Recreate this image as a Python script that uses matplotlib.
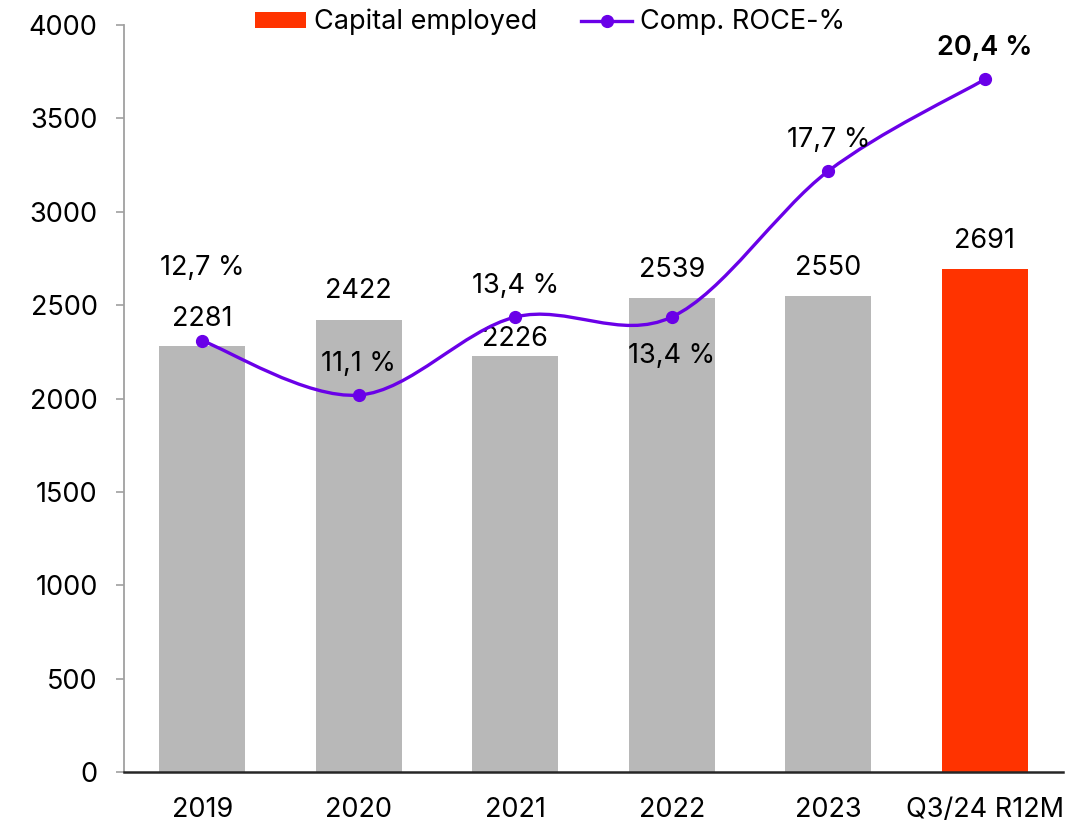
import matplotlib
matplotlib.use("Agg")
import matplotlib.pyplot as plt
from matplotlib.path import Path
from matplotlib.patches import PathPatch
from matplotlib.lines import Line2D
from matplotlib.patches import Patch
import numpy as np

plt.rcParams['font.family'] = ['Inter', 'DejaVu Sans']

# capital employed (MEUR) and comparable ROCE (%)
categories = ['2019', '2020', '2021', '2022', '2023', 'Q3/24 R12M']
capital = [2281, 2422, 2226, 2539, 2550, 2691]
roce = [12.7, 11.1, 13.4, 13.4, 17.7, 20.4]
roce_labels = ['12,7 %', '11,1 %', '13,4 %', '13,4 %', '17,7 %', '20,4 %']

grey = '#B8B8B8'
red = '#FF3300'
purple = '#6A00E8'
fs = 19.5

fig = plt.figure(figsize=(10.66, 8.22), dpi=100)
ax = fig.add_axes([0.1163, 0.0608, 0.881, 0.9088])
ax2 = ax.twinx()

x = np.arange(len(categories))
colors = [grey] * (len(categories) - 1) + [red]
bars = ax.bar(x, capital, width=0.55, color=colors, zorder=2)

ax.set_xlim(-0.5, len(categories) - 0.5)
ax.set_ylim(0, 4000)
ax.set_yticks(range(0, 4001, 500))
ax.set_xticks(x)
ax.set_xticklabels(categories)
ax.tick_params(axis='x', length=0, pad=18, labelsize=fs)
ax.tick_params(axis='y', length=6, width=1.2, color='#A0A0A0', pad=13, labelsize=fs)
for s in ['top', 'right']:
    ax.spines[s].set_visible(False)
ax.spines['left'].set_color('#A0A0A0')
ax.spines['left'].set_linewidth(1.3)
ax.spines['bottom'].set_color('#262626')
ax.spines['bottom'].set_linewidth(1.8)
ax.spines['bottom'].set_zorder(5)

# bar value labels, the 2021 one sits a bit lower to clear the line
bar_offsets = [10, 11, 3, 11, 11, 11]
for xi, v, dy in zip(x, capital, bar_offsets):
    ax.annotate(str(v), (xi, v), xytext=(0, dy), textcoords='offset points',
                ha='center', va='bottom', fontsize=fs)

# smoothed ROCE line (Catmull-Rom style bezier through the points)
ax2.set_ylim(0, 22)
ax2.axis('off')
pts = np.column_stack([x, roce]).astype(float)
verts = [pts[0]]
codes = [Path.MOVETO]
n = len(pts)
for i in range(n - 1):
    p0 = pts[i - 1] if i > 0 else pts[i]
    p1 = pts[i]
    p2 = pts[i + 1]
    p3 = pts[i + 2] if i + 2 < n else pts[i + 1]
    c1 = p1 + (p2 - p0) / 6.0
    c2 = p2 - (p3 - p1) / 6.0
    verts += [c1, c2, p2]
    codes += [Path.CURVE4] * 3
ax2.add_patch(PathPatch(Path(verts, codes), facecolor='none', edgecolor=purple,
                        lw=2.4, zorder=3))
ax2.plot(x, roce, 'o', color=purple, markersize=8.5, zorder=4)

roce_offsets = [43, 13, 13, -19, 13, 13]
for i, (xi, v, lab) in enumerate(zip(x, roce, roce_labels)):
    dy = roce_offsets[i]
    va = 'top' if dy < 0 else 'bottom'
    ax2.annotate(lab, (xi, v), xytext=(0, dy), textcoords='offset points',
                 ha='center', va=va, fontsize=fs,
                 fontweight='semibold' if i == len(roce) - 1 else 'normal')

handles = [Patch(facecolor=red, edgecolor='none'),
           Line2D([0], [0], color=purple, lw=2.4, marker='o', markersize=8.5)]
fig.legend(handles, ['Capital employed', 'Comp. ROCE-%'], loc='center',
           bbox_to_anchor=(0.516, 0.973), ncol=2, frameon=False, fontsize=fs,
           handlelength=1.9, handleheight=0.55, columnspacing=1.6, handletextpad=0.3)

fig.savefig('out.png', dpi=100)
